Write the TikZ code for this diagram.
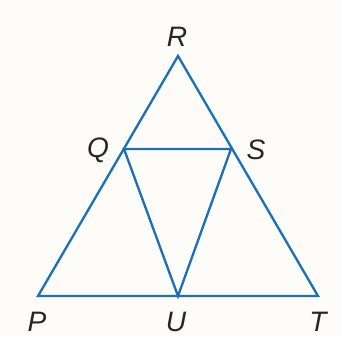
\documentclass[tikz,border=0pt]{standalone}
\usepackage{fontspec}
\setmainfont{Liberation Sans}
\definecolor{edgeblue}{RGB}{28,112,184}
\definecolor{paper}{RGB}{253,252,249}

\begin{document}
\begin{tikzpicture}[x=0.03cm, y=-0.03cm, font=\fontsize{24}{28}\selectfont\itshape, edge/.style={draw=edgeblue, line width=2pt, line join=miter}, vlabel/.style={text=black!85, inner sep=0pt}]
\fill[paper] (0,0) rectangle (341,336);
\useasboundingbox (0,0) rectangle (341,336);
\coordinate (R) at (178,56);
\coordinate (Q) at (124,149);
\coordinate (S) at (231,149);
\coordinate (P) at (38,296);
\coordinate (U) at (178,296);
\coordinate (T) at (318,296);
\draw[edge] (P) -- (R) -- (T) -- cycle;
\draw[edge] (Q) -- (S) -- (U) -- cycle;
\node[vlabel] (lR) at (177,37) {R};
\node[vlabel] (lQ) at (98,150) {Q};
\node[vlabel] (lS) at (256,150) {S};
\node[vlabel] (lP) at (37,322) {P};
\node[vlabel] (lU) at (176,322) {U};
\node[vlabel] (lT) at (318,322) {T};
\end{tikzpicture}
\end{document}
